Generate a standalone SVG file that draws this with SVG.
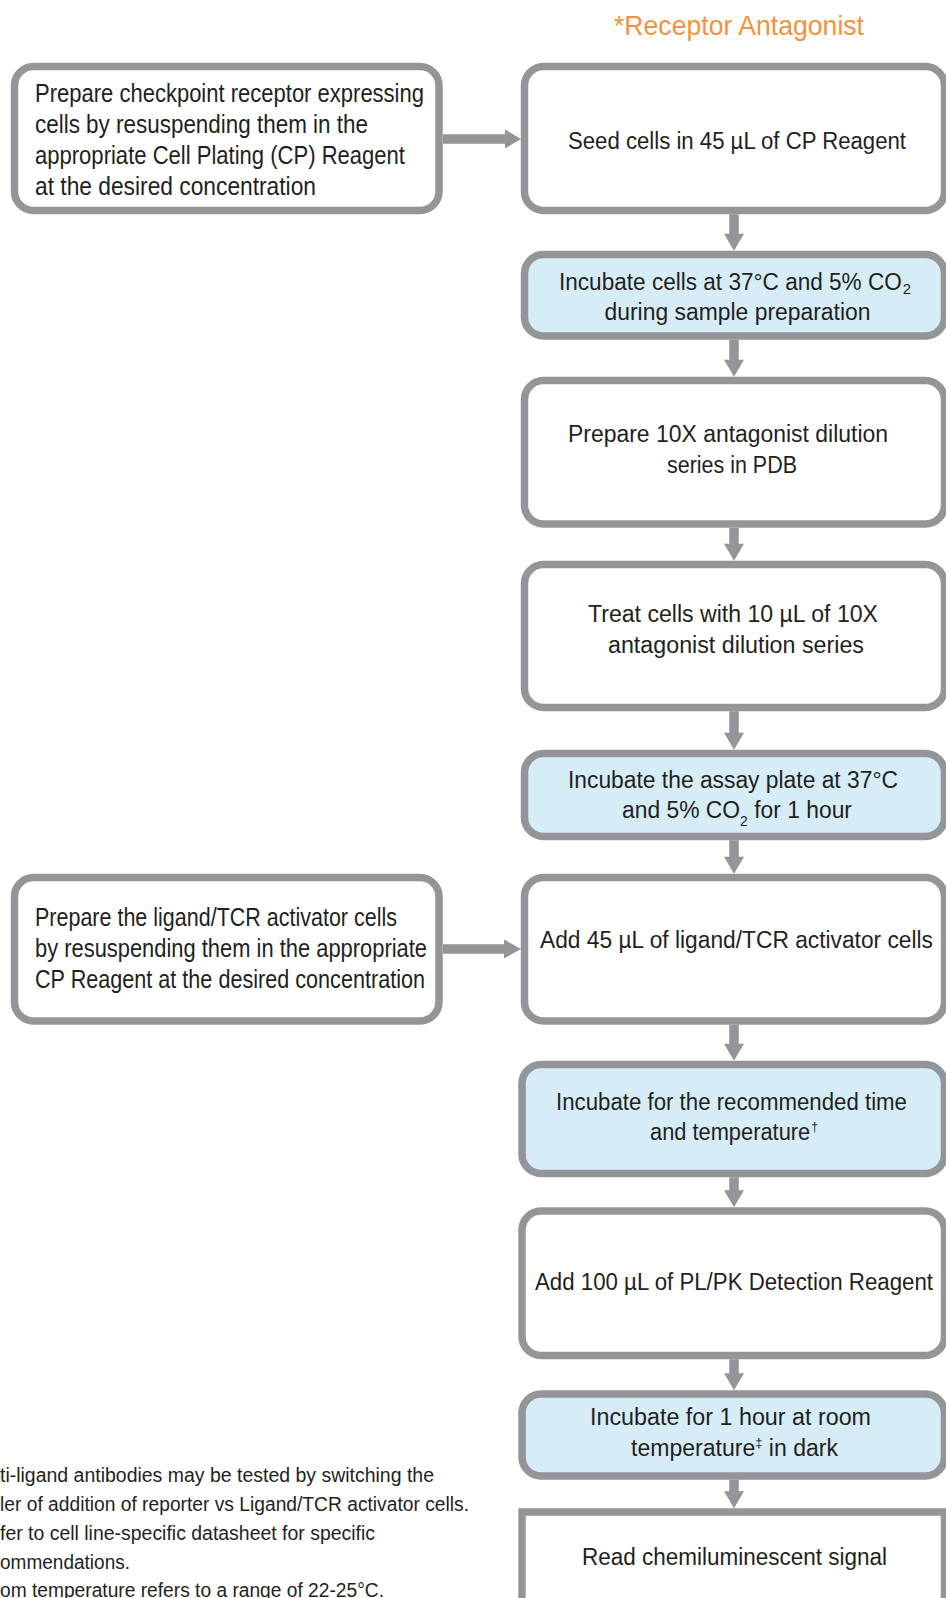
<svg xmlns="http://www.w3.org/2000/svg" width="946" height="1598" viewBox="0 0 946 1598">
<style>
.box{fill:#ffffff;stroke:#939598;stroke-width:7.5}
.inc{fill:#d6edf8;stroke:#939598;stroke-width:7.5}
.arr{fill:#939598}
.t{font-family:"Liberation Sans",Arial,sans-serif;font-size:23px;fill:#231f20}
.l{font-family:"Liberation Sans",Arial,sans-serif;font-size:25px;fill:#231f20}
.fn{font-family:"Liberation Sans",Arial,sans-serif;font-size:19.5px;fill:#231f20}
.title{font-family:"Liberation Sans",Arial,sans-serif;font-size:28px;fill:#f5913e}
</style>
<rect width="946" height="1598" fill="#ffffff"/>

<g id="title">
<text class="title" x="614" y="35" textLength="250" lengthAdjust="spacingAndGlyphs">*Receptor Antagonist</text>
</g>

<g id="connectors">
<path class="arr" d="M443 134.25H505V129.5L521 139L505 148.5V143.75H443Z"/>
<path class="arr" d="M443 944.25H504V939.5L521 949L504 958.5V953.75H443Z"/>
<path class="arr" d="M729.25 214.25V233.75H724L734 250.75L744 233.75H738.75V214.25Z"/>
<path class="arr" d="M729.25 339.75V359.75H724L734 376.75L744 359.75H738.75V339.75Z"/>
<path class="arr" d="M729.25 527.75V543.75H724L734 560.75L744 543.75H738.75V527.75Z"/>
<path class="arr" d="M729.25 711.25V732.75H724L734 749.75L744 732.75H738.75V711.25Z"/>
<path class="arr" d="M729.25 840.25V856.75H724L734 873.75L744 856.75H738.75V840.25Z"/>
<path class="arr" d="M729.25 1024.75V1043.75H724L734 1060.75L744 1043.75H738.75V1024.75Z"/>
<path class="arr" d="M729.25 1177.25V1190.25H724L734 1207.25L744 1190.25H738.75V1177.25Z"/>
<path class="arr" d="M729.25 1359.25V1373.25H724L734 1390.25L744 1373.25H738.75V1359.25Z"/>
<path class="arr" d="M729.25 1479.75V1491.25H724L734 1508.25L744 1491.25H738.75V1479.75Z"/>
</g>

<g id="prep-checkpoint">
<rect class="box" x="14.5" y="66.5" width="424.5" height="144" rx="19"/>
<text class="l" x="35" y="102" textLength="389" lengthAdjust="spacingAndGlyphs">Prepare checkpoint receptor expressing</text>
<text class="l" x="35" y="133" textLength="333" lengthAdjust="spacingAndGlyphs">cells by resuspending them in the</text>
<text class="l" x="35" y="164" textLength="370" lengthAdjust="spacingAndGlyphs">appropriate Cell Plating (CP) Reagent</text>
<text class="l" x="35" y="195" textLength="281" lengthAdjust="spacingAndGlyphs">at the desired concentration</text>
</g>

<g id="seed">
<rect class="box" x="524.5" y="66.5" width="420" height="144" rx="19"/>
<text class="t" x="568" y="148.5" textLength="338" lengthAdjust="spacingAndGlyphs">Seed cells in 45 µL of CP Reagent</text>
</g>

<g id="incubate-1">
<rect class="inc" x="524.5" y="254.5" width="420" height="81.5" rx="19"/>
<text class="t" x="559" y="290" textLength="352" lengthAdjust="spacingAndGlyphs">Incubate cells at 37°C and 5% CO<tspan font-size="15" dx="1" dy="4">2</tspan></text>
<text class="t" x="604.5" y="320" textLength="266" lengthAdjust="spacingAndGlyphs">during sample preparation</text>
</g>

<g id="prepare-dilution">
<rect class="box" x="524.5" y="380.5" width="420" height="143.5" rx="19"/>
<text class="t" x="568" y="441.5" textLength="320" lengthAdjust="spacingAndGlyphs">Prepare 10X antagonist dilution</text>
<text class="t" x="667" y="473" textLength="130" lengthAdjust="spacingAndGlyphs">series in PDB</text>
</g>

<g id="treat">
<rect class="box" x="524.5" y="564.5" width="420" height="143" rx="19"/>
<text class="t" x="588" y="621.5" textLength="290" lengthAdjust="spacingAndGlyphs">Treat cells with 10 µL of 10X</text>
<text class="t" x="608" y="653" textLength="256" lengthAdjust="spacingAndGlyphs">antagonist dilution series</text>
</g>

<g id="incubate-2">
<rect class="inc" x="524.5" y="753.5" width="420" height="83" rx="19"/>
<text class="t" x="568" y="788" textLength="330" lengthAdjust="spacingAndGlyphs">Incubate the assay plate at 37°C</text>
<text class="t" x="622" y="818" textLength="230" lengthAdjust="spacingAndGlyphs">and 5% CO<tspan font-size="14" dy="8">2</tspan><tspan dy="-8"> for 1 hour</tspan></text>
</g>

<g id="prep-ligand">
<rect class="box" x="14.5" y="877.5" width="424.5" height="143.5" rx="19"/>
<text class="l" x="35" y="925.5" textLength="362" lengthAdjust="spacingAndGlyphs">Prepare the ligand/TCR activator cells</text>
<text class="l" x="35" y="957" textLength="392" lengthAdjust="spacingAndGlyphs">by resuspending them in the appropriate</text>
<text class="l" x="35" y="988" textLength="390" lengthAdjust="spacingAndGlyphs">CP Reagent at the desired concentration</text>
</g>

<g id="add-activator">
<rect class="box" x="524.5" y="877.5" width="420" height="143.5" rx="19"/>
<text class="t" x="540" y="948" textLength="393" lengthAdjust="spacingAndGlyphs">Add 45 µL of ligand/TCR activator cells</text>
</g>

<g id="incubate-3">
<rect class="inc" x="522" y="1064.5" width="422.5" height="109" rx="19"/>
<text class="t" x="556" y="1110" textLength="351" lengthAdjust="spacingAndGlyphs">Incubate for the recommended time</text>
<text class="t" x="650" y="1140" textLength="168" lengthAdjust="spacingAndGlyphs">and temperature<tspan font-size="13" dx="1" dy="-9">†</tspan></text>
</g>

<g id="add-detection">
<rect class="box" x="522" y="1211" width="422.5" height="144.5" rx="19"/>
<text class="t" x="535" y="1290" textLength="398" lengthAdjust="spacingAndGlyphs">Add 100 µL of PL/PK Detection Reagent</text>
</g>

<g id="incubate-4">
<rect class="inc" x="522" y="1394" width="422.5" height="82" rx="19"/>
<text class="t" x="590" y="1425" textLength="281" lengthAdjust="spacingAndGlyphs">Incubate for 1 hour at room</text>
<text class="t" x="631" y="1455.5" textLength="207" lengthAdjust="spacingAndGlyphs">temperature<tspan font-size="13" dy="-9">‡</tspan><tspan dy="9"> in dark</tspan></text>
</g>

<g id="read">
<rect class="box" x="522" y="1512" width="422.5" height="120"/>
<text class="t" x="582" y="1564.5" textLength="305" lengthAdjust="spacingAndGlyphs">Read chemiluminescent signal</text>
</g>

<g id="footnotes">
<text class="fn" x="0" y="1482" textLength="434" lengthAdjust="spacingAndGlyphs">ti-ligand antibodies may be tested by switching the</text>
<text class="fn" x="0" y="1511" textLength="469" lengthAdjust="spacingAndGlyphs">ler of addition of reporter vs Ligand/TCR activator cells.</text>
<text class="fn" x="0" y="1540" textLength="375" lengthAdjust="spacingAndGlyphs">fer to cell line-specific datasheet for specific</text>
<text class="fn" x="0" y="1569" textLength="130" lengthAdjust="spacingAndGlyphs">ommendations.</text>
<text class="fn" x="0" y="1597" textLength="384" lengthAdjust="spacingAndGlyphs">om temperature refers to a range of 22-25°C.</text>
</g>
</svg>
